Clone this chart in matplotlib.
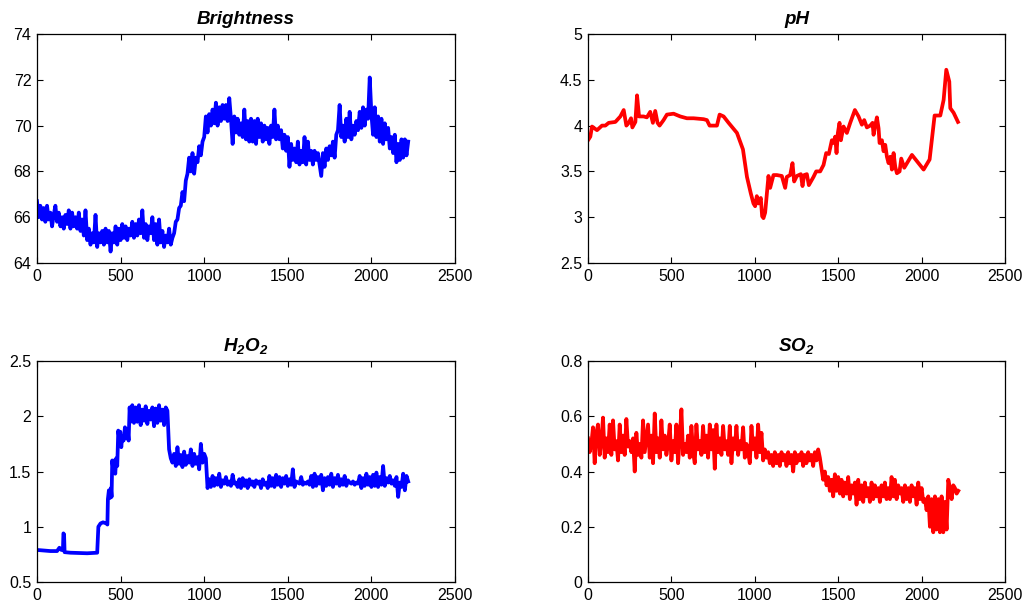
import numpy as np
import matplotlib.pyplot as plt

plt.rcParams['font.family'] = ['Liberation Sans', 'DejaVu Sans']
plt.rcParams['mathtext.fontset'] = 'custom'
plt.rcParams['mathtext.rm'] = 'Liberation Sans:italic:bold'
plt.rcParams['mathtext.default'] = 'rm'

# sample index, every 10 samples
x_bright = np.arange(0, 2230, 10)
brightness = [
    66.7, 66.0, 66.5, 65.9, 66.4, 65.8, 66.5, 65.9, 66.2, 65.6,
    66.1, 66.5, 65.8, 66.2, 65.6, 66.0, 65.5, 66.1, 65.7, 66.3,
    65.5, 66.2, 65.6, 66.0, 65.5, 66.2, 65.4, 65.9, 65.2, 66.3,
    65.0, 65.5, 64.8, 65.3, 64.9, 66.1, 64.7, 65.3, 64.9, 65.4,
    64.8, 65.5, 64.9, 65.4, 64.5, 65.3, 64.9, 65.6, 64.8, 65.5,
    65.0, 65.7, 65.1, 65.6, 65.0, 65.5, 65.2, 65.8, 65.1, 65.7,
    65.2, 65.9, 65.3, 66.3, 65.1, 65.7, 65.0, 65.6, 65.3, 66.0,
    65.0, 65.7, 64.8, 65.9, 64.9, 65.4, 64.7, 65.2, 64.9, 65.5,
    64.8, 65.1, 65.3, 65.8, 65.9, 66.4, 66.5, 67.1, 66.7, 67.6,
    67.9, 68.6, 68.0, 68.8, 67.9, 68.6, 68.4, 69.1, 68.7, 69.3,
    69.5, 70.4, 69.7, 70.5, 70.0, 70.7, 70.1, 71.0, 70.0, 70.8,
    70.2, 70.9, 70.3, 70.9, 70.2, 71.2, 70.3, 69.2, 70.4, 69.7,
    70.3, 69.6, 70.1, 69.5, 70.7, 69.4, 70.2, 69.3, 70.3, 69.3,
    70.2, 69.2, 70.3, 69.5, 70.1, 69.3, 70.0, 69.4, 69.9, 69.2,
    70.0, 69.5, 70.7, 69.4, 70.0, 69.4, 69.8, 69.0, 69.6, 68.9,
    69.5, 68.2, 69.2, 68.5, 69.0, 68.4, 69.3, 68.3, 68.9, 68.4,
    69.5, 68.3, 69.3, 68.5, 68.9, 68.3, 68.9, 68.5, 68.8, 68.3,
    67.8, 68.8, 68.2, 69.0, 68.5, 69.1, 68.7, 69.3, 68.6, 69.6,
    69.8, 70.9, 69.5, 70.0, 69.3, 70.3, 69.5, 70.6, 69.4, 70.0,
    69.6, 70.2, 69.8, 70.6, 69.9, 70.8, 70.0, 70.7, 70.3, 72.1,
    70.5, 69.6, 70.8, 69.5, 70.4, 69.3, 70.3, 69.2, 70.1, 69.4,
    69.9, 69.0, 69.5, 68.8, 69.6, 68.4, 69.2, 68.5, 69.4, 68.6,
    69.4, 68.7, 69.3,
]

# pH readings (irregular sampling)
x_ph = [0, 14, 24, 54, 84, 104, 124, 164, 194, 214, 230, 244, 258, 266, 284,
        294, 306, 333, 353, 373, 389, 403, 417, 429, 453, 473, 513, 553, 593,
        633, 693, 713, 729, 773, 789, 813, 843, 893, 929, 953, 976, 992, 1002,
        1012, 1022, 1036, 1044, 1052, 1062, 1082, 1092, 1112, 1132, 1162, 1182,
        1192, 1212, 1226, 1236, 1252, 1276, 1286, 1296, 1312, 1324, 1352, 1368,
        1392, 1412, 1428, 1444, 1462, 1472, 1482, 1490, 1498, 1508, 1516, 1532,
        1552, 1572, 1600, 1622, 1642, 1656, 1672, 1692, 1706, 1712, 1722, 1732,
        1742, 1748, 1762, 1772, 1782, 1792, 1802, 1812, 1822, 1832, 1842, 1852,
        1868, 1878, 1896, 1942, 2012, 2048, 2078, 2112, 2132, 2148, 2166, 2172,
        2192, 2218]
ph = [3.84, 3.88, 3.99, 3.95, 4.00, 4.00, 4.03, 4.04, 4.10, 4.17, 4.00, 4.03,
      4.08, 3.98, 4.04, 4.33, 4.10, 4.10, 4.09, 4.15, 4.03, 4.16, 4.03, 4.00,
      4.06, 4.12, 4.13, 4.10, 4.08, 4.08, 4.07, 4.06, 4.00, 4.00, 4.12, 4.10,
      4.03, 3.92, 3.74, 3.44, 3.26, 3.15, 3.12, 3.23, 3.15, 3.21, 3.01, 2.99,
      3.05, 3.45, 3.32, 3.46, 3.46, 3.45, 3.32, 3.44, 3.46, 3.59, 3.39, 3.45,
      3.47, 3.34, 3.46, 3.47, 3.35, 3.44, 3.50, 3.50, 3.57, 3.70, 3.69, 3.84,
      3.81, 3.88, 3.70, 3.92, 4.03, 3.84, 3.99, 3.92, 4.03, 4.17, 4.10, 4.01,
      4.06, 3.98, 4.00, 4.03, 3.90, 4.00, 4.09, 3.97, 3.81, 3.84, 3.72, 3.79,
      3.66, 3.59, 3.66, 3.52, 3.70, 3.55, 3.48, 3.50, 3.64, 3.54, 3.68, 3.52,
      3.63, 4.11, 4.11, 4.28, 4.61, 4.48, 4.19, 4.14, 4.04]

# H2O2: flat start and steps up to ~560, then every 10 samples
x_h2o2_start = [0, 40, 80, 120, 134, 146, 155, 158, 162, 165, 200, 300, 360,
                367, 380, 395, 415, 421, 424, 430, 436, 442, 446, 450, 456,
                462, 468, 474, 480, 486, 492, 498, 504, 510, 518, 526, 534,
                542, 548, 554, 560]
h2o2_start = [0.79, 0.785, 0.78, 0.78, 0.81, 0.79, 0.79, 0.94, 0.93, 0.77,
              0.765, 0.76, 0.765, 1.00, 1.03, 1.04, 1.03, 1.02, 1.25, 1.33,
              1.26, 1.35, 1.27, 1.60, 1.52, 1.60, 1.48, 1.62, 1.55, 1.87,
              1.80, 1.86, 1.72, 1.82, 1.78, 1.90, 1.80, 1.88, 1.78, 2.08, 1.95]
x_h2o2_rest = np.arange(570, 2230, 10)
h2o2_rest = [
    2.10, 1.94, 2.08, 1.95, 2.10, 1.92, 2.06, 1.96, 2.09, 1.93, 2.05,
    1.97, 2.08, 1.91, 2.07, 1.94, 2.10, 1.96, 2.06, 1.92, 2.08,
    2.05, 1.70, 1.62, 1.58,
    1.66, 1.55, 1.72, 1.57, 1.65, 1.54, 1.68, 1.56, 1.64, 1.58,
    1.70, 1.55, 1.66, 1.57, 1.63, 1.52, 1.75, 1.58, 1.66,
    1.62, 1.35,
    1.43, 1.36, 1.46, 1.37, 1.44, 1.38, 1.48, 1.36, 1.42, 1.39,
    1.45, 1.38, 1.41, 1.37, 1.47, 1.39, 1.40, 1.36, 1.43, 1.35,
    1.44, 1.37, 1.42, 1.35, 1.43, 1.38, 1.41, 1.36, 1.42, 1.39,
    1.41, 1.35, 1.43, 1.38, 1.40, 1.35, 1.46, 1.37, 1.44, 1.36,
    1.47, 1.38, 1.45, 1.36, 1.44, 1.39, 1.46, 1.37, 1.43, 1.38,
    1.52, 1.36, 1.41, 1.40, 1.39, 1.45, 1.38, 1.40, 1.39, 1.41,
    1.38, 1.46, 1.36, 1.48, 1.37, 1.45, 1.39, 1.47, 1.33, 1.44,
    1.37, 1.45, 1.38, 1.48, 1.36, 1.44, 1.39, 1.47, 1.37, 1.43,
    1.38, 1.46, 1.37, 1.42, 1.40, 1.39, 1.41, 1.38, 1.40, 1.39,
    1.46, 1.35, 1.44, 1.37, 1.48, 1.38, 1.45, 1.36, 1.47, 1.37,
    1.49, 1.36, 1.45, 1.38, 1.55, 1.37, 1.44, 1.40, 1.46, 1.39,
    1.42, 1.37, 1.45, 1.27, 1.40, 1.36, 1.48, 1.33, 1.46, 1.41,
]

x_so2 = np.arange(0, 2230, 10)
so2 = [
    0.52, 0.47, 0.50, 0.56, 0.43, 0.54, 0.57, 0.46, 0.51, 0.595,
    0.45, 0.52, 0.47, 0.57, 0.46, 0.585, 0.48, 0.51, 0.44, 0.57,
    0.47, 0.53, 0.46, 0.59, 0.49, 0.51, 0.47, 0.52, 0.40, 0.54,
    0.46, 0.50, 0.45, 0.585, 0.47, 0.52, 0.57, 0.45, 0.53, 0.43,
    0.61, 0.47, 0.52, 0.45, 0.585, 0.48, 0.53, 0.46, 0.50, 0.57,
    0.44, 0.51, 0.47, 0.57, 0.43, 0.52, 0.625, 0.46, 0.50, 0.47,
    0.53, 0.45, 0.565, 0.47, 0.43, 0.57, 0.48, 0.51, 0.46, 0.565,
    0.47, 0.53, 0.45, 0.57, 0.48, 0.55, 0.41, 0.57, 0.47, 0.52,
    0.46, 0.565, 0.48, 0.51, 0.46, 0.565, 0.43, 0.52, 0.48, 0.565,
    0.46, 0.51, 0.48, 0.56, 0.45, 0.50, 0.47, 0.43, 0.565, 0.48,
    0.52, 0.45, 0.57, 0.47, 0.54, 0.44, 0.48, 0.45, 0.47, 0.43,
    0.46, 0.42, 0.47, 0.43, 0.46, 0.42, 0.47, 0.44, 0.46, 0.42,
    0.47, 0.43, 0.46, 0.40, 0.47, 0.43, 0.46, 0.44, 0.47, 0.42,
    0.46, 0.43, 0.47, 0.44, 0.46, 0.42, 0.47, 0.44, 0.48, 0.45,
    0.41, 0.37, 0.40, 0.35, 0.38, 0.33, 0.37, 0.31, 0.39, 0.33,
    0.38, 0.32, 0.37, 0.31, 0.36, 0.32, 0.38, 0.30, 0.35, 0.32,
    0.36, 0.28, 0.37, 0.30, 0.35, 0.29, 0.36, 0.31, 0.34, 0.29,
    0.36, 0.30, 0.35, 0.31, 0.34, 0.29, 0.35, 0.31, 0.36, 0.30,
    0.34, 0.30, 0.38, 0.31, 0.37, 0.30, 0.35, 0.32, 0.34, 0.29,
    0.35, 0.30, 0.34, 0.29, 0.35, 0.31, 0.34, 0.28, 0.36, 0.30,
    0.34, 0.29, 0.30, 0.26, 0.31, 0.20, 0.30, 0.18, 0.31, 0.19,
    0.30, 0.18, 0.31, 0.18, 0.29, 0.19, 0.37, 0.34, 0.30, 0.35,
    0.34, 0.32, 0.33,
]

fig = plt.figure(figsize=(10.35, 6.08), dpi=100)
W, H = 1035, 608
# axes boxes in pixels: left, top, right, bottom
boxes = [(37, 34, 455, 263), (588, 34, 1005, 263),
         (37, 361, 455, 582), (588, 361, 1005, 582)]
axs = [fig.add_axes([l / W, 1 - b / H, (r - l) / W, (b - t) / H]) for l, t, r, b in boxes]

panels = [
    ('Brightness', x_bright, brightness, 'blue', (64, 74), [64, 66, 68, 70, 72, 74]),
    ('pH', x_ph, ph, 'red', (2.5, 5), [2.5, 3, 3.5, 4, 4.5, 5]),
    ('H$_2$O$_2$', np.concatenate([x_h2o2_start, x_h2o2_rest]), h2o2_start + h2o2_rest,
     'blue', (0.5, 2.5), [0.5, 1, 1.5, 2, 2.5]),
    ('SO$_2$', x_so2, so2, 'red', (0, 0.8), [0, 0.2, 0.4, 0.6, 0.8]),
]

for ax, (title, xs, ys, color, ylim, yticks) in zip(axs, panels):
    ax.plot(xs, ys, color=color, lw=2.7, solid_joinstyle='round')
    ax.set_xlim(0, 2500)
    ax.set_ylim(*ylim)
    ax.set_xticks([0, 500, 1000, 1500, 2000, 2500])
    ax.set_yticks(yticks)
    ax.set_yticklabels([f'{v:g}' for v in yticks])
    ax.tick_params(direction='in', top=True, right=True, length=4, width=0.8,
                   labelsize=11.5, pad=4)
    for s in ax.spines.values():
        s.set_linewidth(0.9)
    ax.set_title(title, fontsize=13.5, fontweight='bold', fontstyle='italic', pad=7)

fig.savefig('out.png', dpi=100)
